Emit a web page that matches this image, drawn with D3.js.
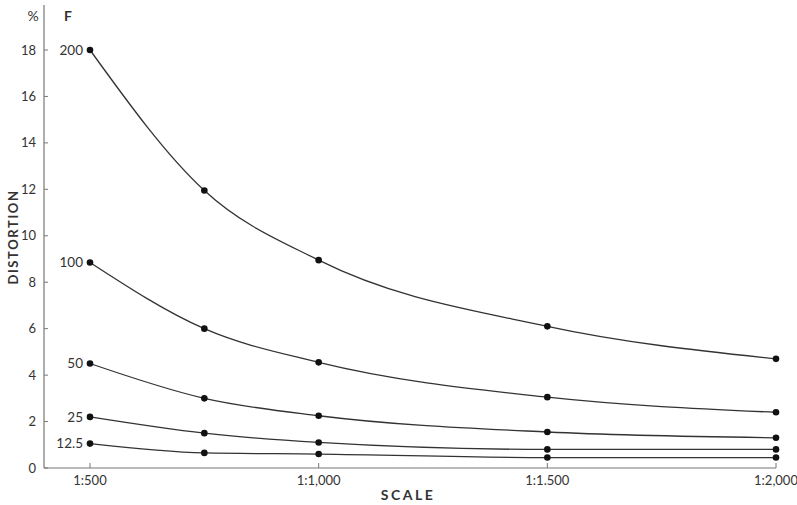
<!DOCTYPE html>
<html>
<head>
<meta charset="utf-8">
<script src="https://cdn.jsdelivr.net/npm/d3@7"></script>
<style>
  body { margin: 0; background: #fff; }
  text { font-family: "Lato", "DejaVu Sans", sans-serif; fill: #333; }
</style>
</head>
<body>
<svg id="chart"></svg>
<script>
// scale denominators (1:x)
const scales = [500, 750, 1000, 1500, 2000];
const xTickValues = [500, 1000, 1500, 2000];
const xTickLabels = ["1:500", "1:1,000", "1:1.500", "1:2,000"];
const yTickValues = [0, 2, 4, 6, 8, 10, 12, 14, 16, 18];

// distortion % for each F
const fLabels = ["200", "100", "50", "25", "12.5"];
const f200 = [18, 11.95, 8.95, 6.1, 4.7];
const f100 = [8.85, 6.0, 4.55, 3.05, 2.4];
const f50 = [4.5, 3.0, 2.25, 1.55, 1.3];
const f25 = [2.2, 1.5, 1.1, 0.8, 0.8];
const f12 = [1.05, 0.65, 0.6, 0.45, 0.45];
const series = [f200, f100, f50, f25, f12];

const W = 797, H = 505;
const svg = d3.select("#chart").attr("width", W).attr("height", H);

const x = d3.scaleLinear().domain([500, 2000]).range([90, 776]);
const y = d3.scaleLinear().domain([0, 18]).range([468, 50]);
const axisLeft = 44;

const g = svg.append("g");

// y axis
g.append("line")
  .attr("x1", axisLeft).attr("x2", axisLeft)
  .attr("y1", 5).attr("y2", y(0))
  .attr("stroke", "#777").attr("stroke-width", 1.2);
g.selectAll(".ytick").data(yTickValues).enter()
  .append("line")
  .attr("class", "ytick")
  .attr("x1", axisLeft).attr("x2", axisLeft + 4)
  .attr("y1", (d) => y(d)).attr("y2", (d) => y(d))
  .attr("stroke", "#777");
g.selectAll(".ylab").data(yTickValues).enter()
  .append("text")
  .attr("class", "ylab")
  .attr("x", 36).attr("y", (d) => y(d))
  .attr("dy", "0.35em")
  .attr("text-anchor", "end")
  .attr("font-size", 13)
  .text((d) => d);

// x axis
g.append("line")
  .attr("x1", axisLeft).attr("x2", x(2000))
  .attr("y1", y(0)).attr("y2", y(0))
  .attr("stroke", "#777").attr("stroke-width", 1.2);
g.selectAll(".xtick").data(xTickValues).enter()
  .append("line")
  .attr("class", "xtick")
  .attr("x1", (d) => x(d)).attr("x2", (d) => x(d))
  .attr("y1", y(0)).attr("y2", y(0) - 5)
  .attr("stroke", "#777");
g.selectAll(".xlab").data(xTickValues).enter()
  .append("text")
  .attr("class", "xlab")
  .attr("x", (d) => x(d)).attr("y", 485)
  .attr("text-anchor", "middle")
  .attr("font-size", 13)
  .text((d, i) => xTickLabels[i]);

// titles
g.append("text")
  .attr("x", 408).attr("y", 500)
  .attr("text-anchor", "middle")
  .attr("font-size", 14).attr("font-weight", "bold")
  .attr("letter-spacing", 2.5)
  .text("SCALE");
g.append("text")
  .attr("transform", "translate(18,237) rotate(-90)")
  .attr("text-anchor", "middle")
  .attr("font-size", 13).attr("font-weight", "bold")
  .attr("letter-spacing", 1.6)
  .text("DISTORTION");
g.append("text")
  .attr("x", 33).attr("y", 21)
  .attr("text-anchor", "middle")
  .attr("font-size", 14)
  .text("%");
g.append("text")
  .attr("x", 68).attr("y", 21)
  .attr("text-anchor", "middle")
  .attr("font-size", 14).attr("font-weight", "bold")
  .text("F");

// curves
const line = d3.line()
  .x((d, i) => x(scales[i]))
  .y((d) => y(d))
  .curve(d3.curveMonotoneX);

g.selectAll(".curve").data(series).enter()
  .append("path")
  .attr("class", "curve")
  .attr("d", (d) => line(d))
  .attr("fill", "none")
  .attr("stroke", "#333")
  .attr("stroke-width", 1.3);

series.forEach((s, k) => {
  g.selectAll(".dot" + k).data(s).enter()
    .append("circle")
    .attr("class", "dot" + k)
    .attr("cx", (d, i) => x(scales[i]))
    .attr("cy", (d) => y(d))
    .attr("r", 3.3)
    .attr("fill", "#111");
  g.append("text")
    .attr("x", x(scales[0]) - 7)
    .attr("y", y(s[0]))
    .attr("dy", "0.35em")
    .attr("text-anchor", "end")
    .attr("font-size", 13.5)
    .text(fLabels[k]);
});
</script>
</body>
</html>
